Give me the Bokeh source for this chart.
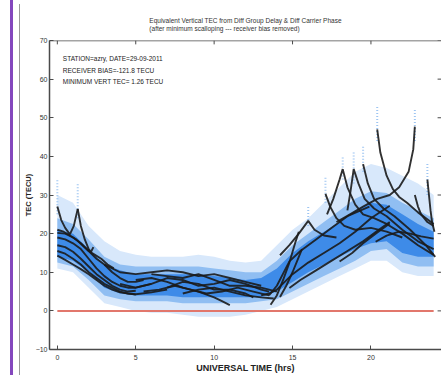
from bokeh.plotting import figure
from bokeh.models import Div, Title, Label, FixedTicker, Range1d, ColumnDataSource, Span
from bokeh.layouts import row
from bokeh.embed import file_html
from bokeh.resources import INLINE

# ---------------- data ----------------
TITLE_LINE_1 = "Equivalent Vertical TEC from Diff Group Delay & Diff Carrier Phase"
TITLE_LINE_2 = "(after minimum scalloping --- receiver bias removed)"
INFO_LINES = ["STATION=azry, DATE=29-09-2011",
              "RECEIVER BIAS=-121.8 TECU",
              "MINIMUM VERT TEC= 1.26 TECU"]
INFO_X = 0.35
INFO_Y = [65.4, 62.3, 59.4]
X_LABEL = "UNIVERSAL TIME (hrs)"
Y_LABEL = "TEC (TECU)"
X_TICKS = [0, 5, 10, 15, 20]
Y_TICKS = [-10, 0, 10, 20, 30, 40, 50, 60, 70]
X_MIN, X_MAX = -0.5, 24.5
Y_MIN, Y_MAX = -10, 70

# blue point cloud, described by envelopes per hour
CLOUD_HOURS = list(range(0, 25))
CLOUD_OUTER_LO = [11, 10, 6, 2, 1, 0, -0.5, -0.5, -1, -1.5, -1.5, -1.5, -1, 0, 1, 3, 5, 7, 9, 11, 13, 13, 10, 9, 9]
CLOUD_OUTER_HI = [30, 28, 22, 18, 15.5, 14.5, 14, 14, 14, 14.5, 14, 13, 12.5, 13, 17, 21, 24, 28, 32, 36, 38, 37, 35, 33, 30]
CLOUD_MID_LO = [12.5, 11.5, 8, 4, 3, 2.5, 2.5, 2.5, 2, 2, 2, 2, 2, 2.5, 3, 5, 7, 9, 11, 13, 15.5, 16, 12.5, 11.5, 11.5]
CLOUD_MID_HI = [24, 22.5, 18.5, 14, 12, 11.5, 11.5, 11.5, 11.5, 11.5, 11, 10.5, 10, 10, 13, 17, 20, 23, 26, 29, 31, 30.5, 28, 26, 24]
CLOUD_CORE_LO = [14, 13, 10, 6, 4.5, 4, 4, 4, 3.5, 3.5, 3.5, 3.5, 3.5, 3.5, 5, 7.5, 10, 12, 14, 16, 17.5, 18, 15, 14, 14]
CLOUD_CORE_HI = [21, 20, 16, 12, 10.5, 9.5, 9.5, 9.5, 9.5, 9.5, 9, 8.5, 8, 8.5, 11, 15, 18, 20.5, 23, 26, 28, 27.5, 25, 22.5, 20.5]

# sparse vertical streaks of points above the cloud
STREAK_HOURS = [0.0, 1.3, 16.0, 17.1, 18.2, 18.9, 19.5, 20.4, 22.8, 23.6]
STREAK_LO = [25, 24, 22, 28, 34, 33, 36, 44, 44, 30]
STREAK_HI = [34, 33, 27, 35, 40, 41, 43, 53, 52, 38]

# receiver-bias zero line
BASELINE_HOURS = [0, 24]
BASELINE_TEC = [0, 0]

# satellite tracks (black curves)
TRACK_HOURS = [
    [0.0, 0.25, 0.5, 0.8, 1.05, 1.3],
    [1.3, 1.5, 1.75, 2.0, 2.15, 2.3],
    [0.0, 0.5, 1.0, 1.5, 2.0, 2.5, 3.0, 3.5, 4.0, 4.5, 5.0, 5.5],
    [0.0, 0.5, 1.0, 1.5, 2.0, 2.5, 3.0, 3.5, 4.0, 4.5, 5.0, 5.5, 6.0],
    [0.0, 0.5, 1.0, 1.5, 2.0, 2.5, 3.0, 3.5, 4.0, 4.5, 5.0],
    [0.0, 0.5, 1.0, 1.5, 2.0, 2.5, 3.0, 3.5, 4.0, 4.5, 5.0, 6.0, 7.0],
    [0.0, 0.5, 1.0, 1.5, 2.0, 2.5, 3.0, 3.5, 4.0, 5.0],
    [0.0, 0.4, 0.8, 1.2, 1.6, 2.0, 2.4, 2.8, 3.2, 3.6],
    [3.0, 4.0, 5.0, 6.0, 7.0, 8.0, 9.0, 10.0, 11.0, 12.0, 13.0],
    [4.0, 5.0, 6.0, 7.0, 8.0, 9.0, 10.0, 11.0, 12.0, 13.0, 13.5],
    [5.0, 6.0, 7.0, 8.0, 9.0, 10.0, 10.5, 11.0],
    [5.5, 6.5, 7.5, 8.5, 9.5, 10.5, 11.5, 12.5, 13.5],
    [6.0, 7.0, 8.0, 9.0, 10.0, 11.0, 12.0, 13.0, 14.0],
    [8.0, 9.0, 10.0, 11.0, 12.0, 13.0, 13.8],
    [7.0, 8.0, 9.0, 10.0, 11.0, 12.0, 12.5],
    [13.6, 14.0, 14.4, 14.8, 15.2, 15.4],
    [14.2, 14.6, 15.0, 15.4, 15.6],
    [13.0, 13.5, 14.0, 14.5, 15.0, 16.0, 17.0, 18.0, 19.0, 20.0, 21.2],
    [14.8, 15.5, 16.5, 17.5, 18.5, 19.5, 20.5, 21.2],
    [13.5, 14.0, 14.8, 15.5, 16.5, 17.5, 18.5, 19.9],
    [14.2, 14.8, 15.4, 16.0, 16.4, 17.0, 17.8],
    [18.0, 18.8, 19.5, 20.3, 21.2],
    [20.3, 21.0, 21.8, 22.5, 23.2, 24.0],
    [20.4, 20.6, 21.0, 21.4, 21.8, 22.3, 23.0, 24.0],
    [17.8, 18.5, 19.5, 20.4, 21.2, 21.8, 22.4, 22.7, 22.8],
    [17.2, 17.6, 18.0, 18.2, 18.5, 19.0, 19.5, 20.2, 21.0, 22.0, 23.0, 24.0],
    [18.5, 18.7, 18.9, 19.2, 19.6, 20.2, 21.0, 22.0, 23.0, 24.0],
    [17.1, 17.4, 17.8, 18.3, 19.0, 20.0, 21.0, 22.0],
    [19.5, 19.8, 20.2, 20.8, 21.5, 22.5, 23.5, 24.1],
    [23.6, 23.7, 23.8, 23.9, 24.05],
    [22.8, 23.0, 23.2, 23.6, 24.0],
]
TRACK_TEC = [
    [27.0, 23.5, 21.5, 19.8, 22.0, 26.4],
    [26.4, 22.0, 18.5, 16.0, 15.3, 16.5],
    [20.2, 20.0, 19.0, 17.5, 15.5, 13.5, 12.0, 10.0, 8.5, 7.5, 7.5, 8.0],
    [19.0, 18.5, 17.5, 16.0, 13.5, 11.0, 9.0, 7.5, 6.5, 6.0, 6.0, 6.5, 7.0],
    [17.0, 16.5, 15.3, 13.5, 11.5, 9.5, 8.0, 6.5, 5.5, 5.0, 5.2],
    [15.5, 14.8, 13.5, 12.0, 10.0, 8.5, 7.0, 6.0, 5.0, 4.5, 4.3, 4.8, 5.5],
    [14.3, 13.2, 12.0, 10.8, 9.5, 8.0, 6.5, 5.5, 4.8, 4.2],
    [21.0, 20.5, 19.5, 18.5, 17.0, 15.5, 14.5, 13.5, 12.0, 11.0],
    [12.0, 10.0, 9.5, 10.0, 10.5, 10.0, 9.0, 9.5, 8.5, 7.5, 6.5],
    [7.0, 6.0, 7.0, 8.5, 8.0, 6.5, 7.0, 8.0, 7.0, 5.5, 5.0],
    [8.0, 8.5, 7.5, 6.0, 5.0, 3.5, 2.5, 1.5],
    [5.0, 5.5, 6.5, 5.5, 4.5, 5.0, 6.0, 5.0, 4.0],
    [9.5, 9.0, 8.5, 9.5, 8.0, 6.5, 6.5, 6.0, 5.0],
    [4.5, 5.5, 6.0, 5.0, 4.0, 3.5, 3.2],
    [6.0, 7.5, 7.0, 5.5, 5.5, 4.5, 3.5],
    [1.6, 4.0, 8.0, 12.5, 18.0, 20.5],
    [3.6, 6.5, 10.0, 14.0, 16.0],
    [4.0, 4.5, 5.5, 7.5, 9.5, 12.5, 15.0, 17.5, 20.5, 24.0, 27.2],
    [5.9, 8.0, 10.5, 13.0, 15.5, 18.0, 21.0, 23.0],
    [4.0, 6.5, 12.8, 15.5, 18.5, 21.5, 24.5, 27.0],
    [14.4, 17.0, 20.0, 23.3, 21.0, 19.5, 19.0],
    [12.8, 15.0, 17.5, 20.0, 22.6],
    [17.9, 19.5, 20.5, 20.0, 19.3, 18.7],
    [47.0, 41.0, 35.0, 31.5, 29.5, 28.0, 25.5, 22.5],
    [23.0, 24.6, 27.0, 29.0, 30.0, 32.0, 36.0, 41.8, 47.7],
    [25.0, 29.0, 34.0, 36.7, 32.0, 27.5, 25.0, 24.0, 22.5, 20.0, 17.0, 14.5],
    [26.0, 31.0, 36.7, 33.0, 29.0, 26.5, 24.5, 21.0, 18.0, 16.0],
    [30.3, 27.0, 24.0, 22.0, 21.0, 21.5, 20.5, 19.0],
    [38.0, 33.0, 29.0, 26.5, 24.5, 21.0, 17.0, 14.0],
    [34.0, 30.0, 26.0, 23.0, 20.5],
    [30.0, 27.0, 25.0, 23.0, 22.0],
]

# ---------------- figure ----------------
FONT = "Liberation Sans"
AX = "#4a4a4a"
p = figure(width=421, height=375, output_backend="svg", toolbar_location=None,
           x_range=Range1d(X_MIN, X_MAX), y_range=Range1d(Y_MIN, Y_MAX),
           min_border_left=28, min_border_right=0, min_border_top=40, min_border_bottom=23,
           background_fill_color="white", border_fill_color="white")
p.outline_line_color = None
p.xgrid.visible = False
p.ygrid.visible = False

cloud = ColumnDataSource(dict(h=CLOUD_HOURS, olo=CLOUD_OUTER_LO, ohi=CLOUD_OUTER_HI,
                              mlo=CLOUD_MID_LO, mhi=CLOUD_MID_HI,
                              clo=CLOUD_CORE_LO, chi=CLOUD_CORE_HI))
p.varea(x="h", y1="olo", y2="ohi", source=cloud, fill_color="#d8e8fb", fill_alpha=1.0)
p.varea(x="h", y1="mlo", y2="mhi", source=cloud, fill_color="#90bef2", fill_alpha=1.0)
p.varea(x="h", y1="clo", y2="chi", source=cloud, fill_color="#3e8be8", fill_alpha=1.0)
p.segment(x0=STREAK_HOURS, y0=STREAK_LO, x1=STREAK_HOURS, y1=STREAK_HI,
          line_color="#86b7ef", line_width=2, line_dash="1 2", line_alpha=0.8)

p.line(BASELINE_HOURS, BASELINE_TEC, line_color="#e2776c", line_width=2)

tracks = ColumnDataSource(dict(xs=TRACK_HOURS, ys=TRACK_TEC))
p.multi_line(xs="xs", ys="ys", source=tracks, line_color="#1b1b1b", line_width=1.9, line_alpha=0.9)

# mirrored frame: top border line and inward ticks on top and right sides
p.add_layout(Span(location=Y_MAX, dimension="width", line_color=AX, line_width=1.5))
p.segment(x0=X_TICKS, y0=[Y_MAX] * len(X_TICKS), x1=X_TICKS, y1=[Y_MAX - 1.0] * len(X_TICKS),
          line_color=AX, line_width=1)
p.segment(x0=[X_MAX] * len(Y_TICKS), y0=Y_TICKS, x1=[X_MAX - 0.25] * len(Y_TICKS), y1=Y_TICKS,
          line_color=AX, line_width=1)

# axes
for ax in (p.xaxis[0], p.yaxis[0]):
    ax.major_tick_in = 4
    ax.major_tick_out = 0
    ax.minor_tick_in = 0
    ax.minor_tick_out = 0
    ax.axis_line_color = AX
    ax.axis_line_width = 1.5
    ax.major_tick_line_color = AX
    ax.major_label_text_font = FONT
    ax.major_label_text_font_size = "7px"
    ax.major_label_text_color = "#333333"
    ax.axis_label_text_font = FONT
    ax.axis_label_text_font_style = "bold"
    ax.axis_label_text_color = "#222222"
p.xaxis[0].ticker = FixedTicker(ticks=X_TICKS)
p.yaxis[0].ticker = FixedTicker(ticks=Y_TICKS)
p.xaxis[0].axis_label = X_LABEL
p.yaxis[0].axis_label = Y_LABEL
p.xaxis[0].axis_label_text_font_size = "9px"
p.yaxis[0].axis_label_text_font_size = "7.5px"
p.xaxis[0].major_label_standoff = 5
p.yaxis[0].major_label_standoff = 2
p.xaxis[0].axis_label_standoff = 0
p.yaxis[0].axis_label_standoff = 0

p.title = Title(text=TITLE_LINE_1 + "\n" + TITLE_LINE_2, align="center", text_font=FONT,
                text_font_size="6.5px", text_font_style="normal", text_color="#333333",
                text_line_height=1.2, standoff=17)

for txt, yy in zip(INFO_LINES, INFO_Y):
    p.add_layout(Label(x=INFO_X, y=yy, text=txt, text_font=FONT, text_font_size="6.5px",
                       text_baseline="middle", text_align="left", text_color="#222222"))

deco = Div(width=20, height=375, margin=0,
           text=('<div style="position:relative;width:20px;height:375px;">'
                 '<div style="position:absolute;left:10px;top:0;width:3px;height:375px;background:#8447bd;"></div>'
                 '<div style="position:absolute;left:19px;top:4px;width:1px;height:371px;background:#9a9a9a;"></div>'
                 '</div>'))

layout = row(deco, p, spacing=0)
open("out.html", "w").write(file_html(layout, INLINE))
